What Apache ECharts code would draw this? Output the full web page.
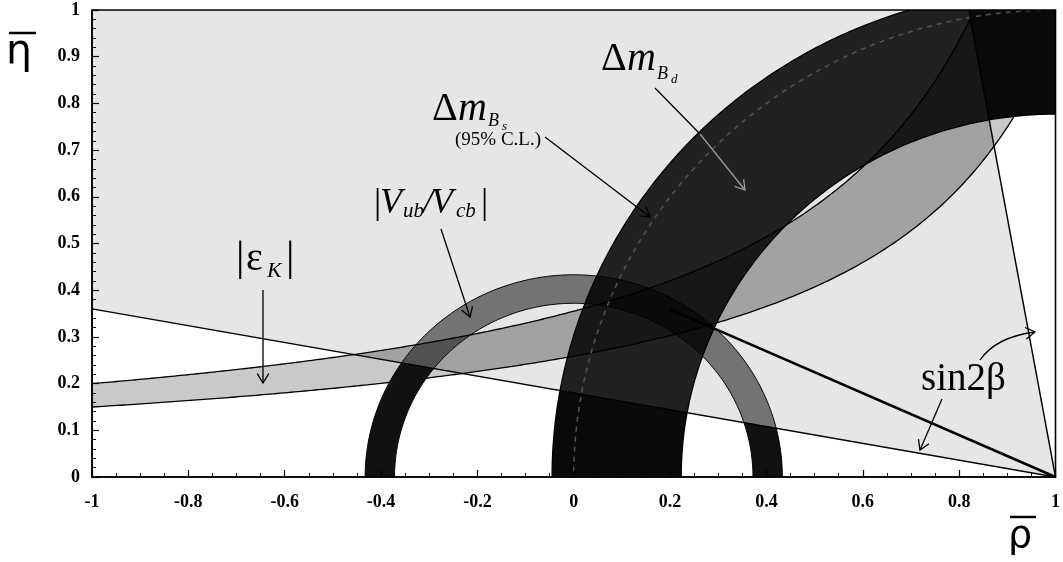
<!DOCTYPE html>
<html>
<head>
<meta charset="utf-8">
<script src="https://cdn.jsdelivr.net/npm/echarts@6/dist/echarts.min.js"></script>
<style>
  html, body { margin: 0; padding: 0; background: #fff; }
  #chart { width: 1063px; height: 562px; }
</style>
</head>
<body>
<div id="chart"></div>
<script>
// ---- Tick labels -------------------------------------------------------
const rhoTickLabels = ['-1', '-0.8', '-0.6', '-0.4', '-0.2', '0', '0.2', '0.4', '0.6', '0.8', '1'];
const etaTickLabels = ['0', '0.1', '0.2', '0.3', '0.4', '0.5', '0.6', '0.7', '0.8', '0.9', '1'];

// ---- Constraints in the (rho-bar, eta-bar) plane -------------------------
// |eps_K| hyperbola edges, eta = c / (a - rho), stored as [a, c]
const epsKLower = [1.375, 0.356];
const epsKUpper = [1.29, 0.458];
// |Vub/Vcb| circle around (0,0): [inner, outer] radius
const vubCenter = [0, 0];
const vubRadii = [0.372, 0.433];
// Delta m_Bd circle around (1,0): [inner, outer] radius
const bdCenter = [1, 0];
const bdRadii = [0.777, 1.045];
// Delta m_Bs 95% C.L. limit circle around (1,0)
const bsLimitRadius = [1.0];
// sin2beta: the two solutions bounding the allowed wedge, plus the central side
const sin2bLow = [[-1, 0.36], [1, 0]];
const sin2bHigh = [[1, 0], [0.82, 1]];
const sin2bCentral = [[1, 0], [0.2, 0.359]];

// ---- Geometry helpers ----------------------------------------------------
const SEG = 300;
function arc(c, r) {
  const pts = [];
  for (let i = 0; i <= SEG; i++) {
    const t = Math.PI * i / SEG;
    pts.push([c[0] + r * Math.cos(t), c[1] + r * Math.sin(t)]);
  }
  return pts;
}
function ring(c, radii) {
  return arc(c, radii[1]).concat(arc(c, radii[0]).reverse());
}
const ETA_CAP = 1.4;
function hyperEdge(p) {
  const end = p[0] - p[1] / ETA_CAP;
  const pts = [];
  for (let i = 0; i <= SEG; i++) {
    const r = -1.05 + (end + 1.05) * i / SEG;
    pts.push([r, p[1] / (p[0] - r)]);
  }
  return pts;
}
const epsUpperEdge = hyperEdge(epsKUpper);
const epsLowerEdge = hyperEdge(epsKLower);
const epsBand = epsUpperEdge.concat(epsLowerEdge.slice().reverse());
const vubBand = ring(vubCenter, vubRadii);
const bdBand = ring(bdCenter, bdRadii);

// signed side of a point relative to a line through two points
function side(a, b) {
  return p => (b[0] - a[0]) * (p[1] - a[1]) - (b[1] - a[1]) * (p[0] - a[0]);
}
const aboveLow = side(sin2bLow[0], sin2bLow[1]);      // > 0 above the shallow solution
const leftHigh = side(sin2bHigh[0], sin2bHigh[1]);    // > 0 left of the steep solution
const neg = f => p => -f(p);

// keep the part of a polygon where f >= 0
function clipHalf(poly, f) {
  const out = [];
  const n = poly.length;
  for (let i = 0; i < n; i++) {
    const cur = poly[i], prev = poly[(i + n - 1) % n];
    const fc = f(cur), fp = f(prev);
    const cross = () => {
      const t = fp / (fp - fc);
      return [prev[0] + t * (cur[0] - prev[0]), prev[1] + t * (cur[1] - prev[1])];
    };
    if (fc >= 0) {
      if (fp < 0) out.push(cross());
      out.push(cur);
    } else if (fp >= 0) {
      out.push(cross());
    }
  }
  return out;
}
// split a shape into the part inside the sin2beta wedge and the parts outside it
function split(poly) {
  const above = clipHalf(poly, aboveLow);
  return {
    inside: clipHalf(above, leftHigh),
    outside: [clipHalf(poly, neg(aboveLow)), clipHalf(above, neg(leftHigh))]
  };
}
const plotRect = [[-1, 0], [1, 0], [1, 1], [-1, 1]];
const wedge = clipHalf(clipHalf(plotRect, aboveLow), leftHigh);

function layer(name, fills, strokes) {
  return {
    type: 'custom', name, coordinateSystem: 'cartesian2d', clip: true, silent: true,
    data: [[0, 0]],
    renderItem: (params, api) => {
      const children = [];
      fills.forEach(([poly, fill]) => {
        if (poly.length > 2) {
          children.push({ type: 'polygon', shape: { points: poly.map(p => api.coord(p)) }, style: { fill } });
        }
      });
      strokes.forEach(([line, stroke, width, dash]) => {
        children.push({
          type: 'polyline', shape: { points: line.map(p => api.coord(p)) },
          style: { fill: 'none', stroke, lineWidth: width, lineDash: dash || null }
        });
      });
      return { type: 'group', children };
    }
  };
}

const epsParts = split(epsBand);
const vubParts = split(vubBand);
const bdParts = split(bdBand);

function straight(name, pts, width) {
  return {
    type: 'line', name, data: pts, symbol: 'none', silent: true, z: 3,
    lineStyle: { color: '#000', width }, animation: false
  };
}

// ---- Annotation helpers (pixel space) ------------------------------------
const SERIF = '"Liberation Serif", "Times New Roman", serif';
const SANS = '"DejaVu Sans", sans-serif';
function txt(str, x, base, size, opt) {
  opt = opt || {};
  return {
    type: 'text', z: 100, silent: true,
    style: {
      text: str, x, y: base - 0.31 * size,
      font: (opt.italic ? 'italic ' : '') + (opt.bold ? 'bold ' : '') + size + 'px ' + (opt.family || SERIF),
      fill: opt.color || '#000', textAlign: 'left', textVerticalAlign: 'middle'
    }
  };
}
function seg(x1, y1, x2, y2, color, w) {
  return { type: 'line', z: 100, silent: true, shape: { x1, y1, x2, y2 }, style: { stroke: color || '#000', lineWidth: w || 1.3 } };
}
function head(fromX, fromY, x, y, color) {
  const a = Math.atan2(y - fromY, x - fromX), L = 11, h = 0.55;
  return {
    type: 'polyline', z: 100, silent: true,
    shape: { points: [[x - L * Math.cos(a - h), y - L * Math.sin(a - h)], [x, y], [x - L * Math.cos(a + h), y - L * Math.sin(a + h)]] },
    style: { stroke: color || '#000', lineWidth: 1.3, fill: 'none' }
  };
}
function pointer(x1, y1, x2, y2, color) {
  return [seg(x1, y1, x2, y2, color), head(x1, y1, x2, y2, color)];
}

const graphics = [
  // axis titles
  txt('η', 6, 65, 41, { family: SANS }), seg(9, 33, 36, 33, '#000', 2.5),
  txt('ρ', 1008, 549, 38, { family: SANS }), seg(1010, 517, 1036, 517, '#000', 2.5),
  // |eps_K|
  txt('|', 236, 272, 42), txt('ε', 246, 272, 40), txt('K', 267, 278, 22, { italic: true }), txt('|', 286, 272, 42),
  ...pointer(263, 290, 263, 383),
  // |Vub/Vcb|
  txt('|', 374, 215, 36), txt('V', 380, 215, 36, { italic: true }), txt('ub', 403, 218, 21, { italic: true }),
  txt('/', 423, 215, 36, { italic: true }), txt('V', 431, 215, 36, { italic: true }), txt('cb', 456, 218, 21, { italic: true }),
  txt('|', 481, 215, 36),
  ...pointer(441, 229, 470, 317),
  // Delta m_Bs
  txt('Δ', 432, 122, 40), txt('m', 458, 122, 40, { italic: true }), txt('B', 488, 127, 18, { italic: true }), txt('s', 502, 131, 13, { italic: true }),
  txt('(95% C.L.)', 455, 146, 19),
  ...pointer(545, 137, 650, 217),
  // Delta m_Bd
  txt('Δ', 601, 72, 40), txt('m', 627, 72, 40, { italic: true }), txt('B', 657, 80, 18, { italic: true }), txt('d', 671, 84, 13, { italic: true }),
  seg(655, 88, 700, 134), ...pointer(700, 134, 745, 190, '#9a9a9a'),
  // sin2beta
  txt('sin2β', 921, 392, 39),
  {
    type: 'bezierCurve', z: 100, silent: true,
    shape: { x1: 980, y1: 360, cpx1: 996, cpy1: 337, x2: 1035, y2: 332 },
    style: { stroke: '#000', lineWidth: 1.3, fill: 'none' }
  },
  head(996, 337, 1035, 332),
  ...pointer(942, 399, 920, 450)
];

// ---- Chart -----------------------------------------------------------------
const chart = echarts.init(document.getElementById('chart'), null, { renderer: 'canvas' });
chart.setOption({
  animation: false,
  backgroundColor: '#fff',
  grid: { left: 92, right: 1, top: 10, bottom: 85, show: true, z: 10, borderColor: '#000', borderWidth: 1.6, backgroundColor: 'transparent' },
  xAxis: {
    type: 'value', min: -1, max: 1, interval: 0.2, z: 10,
    axisLine: { show: true, onZero: false, lineStyle: { color: '#000', width: 1.6 } },
    axisTick: { show: true, inside: true, length: 7, lineStyle: { color: '#000', width: 1.2 } },
    minorTick: { show: true, splitNumber: 4, length: 4, lineStyle: { color: '#000', width: 1 } },
    splitLine: { show: false }, minorSplitLine: { show: false },
    axisLabel: {
      margin: 16, color: '#000', fontFamily: SERIF, fontWeight: 'bold', fontSize: 18,
      showMinLabel: true, showMaxLabel: true,
      formatter: v => rhoTickLabels[Math.round((v + 1) / 0.2)]
    }
  },
  yAxis: {
    type: 'value', min: 0, max: 1, interval: 0.1, z: 10,
    axisLine: { show: true, onZero: false, lineStyle: { color: '#000', width: 1.6 } },
    axisTick: { show: true, inside: true, length: 7, lineStyle: { color: '#000', width: 1.2 } },
    minorTick: { show: true, splitNumber: 5, length: 4, lineStyle: { color: '#000', width: 1 } },
    splitLine: { show: false }, minorSplitLine: { show: false },
    axisLabel: {
      margin: 12, color: '#000', fontFamily: SERIF, fontWeight: 'bold', fontSize: 18,
      showMinLabel: true, showMaxLabel: true,
      formatter: v => etaTickLabels[Math.round(v / 0.1)]
    }
  },
  series: [
    layer('sin2β wedge', [[wedge, '#e6e6e6']], []),
    layer('|εK|',
      [[epsParts.inside, '#a2a2a2'], [epsParts.outside[0], '#c9c9c9'], [epsParts.outside[1], '#c9c9c9']],
      [[epsUpperEdge, '#000', 1.3], [epsLowerEdge, '#000', 1.3]]),
    layer('|Vub/Vcb|',
      [[vubParts.inside, 'rgba(0,0,0,0.5)'], [vubParts.outside[0], '#111'], [vubParts.outside[1], '#111']],
      [[arc(vubCenter, vubRadii[0]), '#000', 1], [arc(vubCenter, vubRadii[1]), '#000', 1]]),
    layer('ΔmBd',
      [[bdParts.inside, 'rgba(0,0,0,0.86)'], [bdParts.outside[0], '#0a0a0a'], [bdParts.outside[1], '#0a0a0a']],
      [[arc(bdCenter, bdRadii[0]), '#000', 1.3], [arc(bdCenter, bdRadii[1]), '#000', 1.3]]),
    layer('ΔmBs', [], [[arc(bdCenter, bsLimitRadius[0]), '#505050', 1.6, [5, 5]]]),
    straight('sin2β low', sin2bLow, 1.4),
    straight('sin2β high', sin2bHigh, 1.4),
    straight('sin2β central', sin2bCentral, 2.6)
  ],
  graphic: { elements: graphics }
});
</script>
</body>
</html>
